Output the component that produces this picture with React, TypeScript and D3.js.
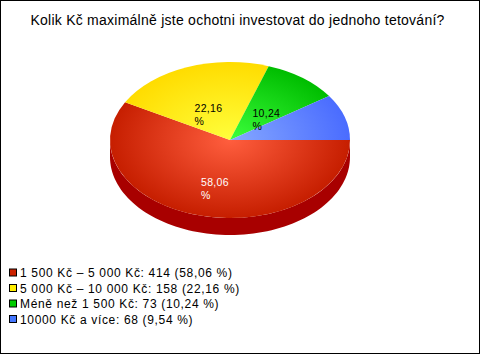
import React, { useEffect, useRef } from 'react';
import * as d3 from 'd3';

const title = 'Kolik Kč maximálně jste ochotni investovat do jednoho tetování?';
const categories = ['1 500 Kč – 5 000 Kč', '5 000 Kč – 10 000 Kč', 'Méně než 1 500 Kč', '10000 Kč a více'];
const counts = [414, 158, 73, 68];
const percentLabels = ['58,06', '22,16', '10,24', '9,54'];
const topLight = ['#ff5e3e', '#ffff3c', '#3cff3c', '#86a8ff'];
const topDark = ['#c61e00', '#ffdc00', '#00bd00', '#4a6cff'];
const sideColors = ['#a80000', '#c8b000', '#009000', '#2a44cc'];
const legendColors = ['#cc2200', '#ffee00', '#00cc00', '#4477ff'];
const labelColors = ['#ffffff', '#000000', '#000000', '#000000'];

export default function App() {
  const svgRef = useRef<SVGSVGElement>(null);

  useEffect(() => {
    document.body.style.margin = '0';
    const W = 480, H = 354;
    const svg = d3.select(svgRef.current).attr('width', W).attr('height', H);
    svg.selectAll('*').remove();
    const font = 'Liberation Sans, Arial, sans-serif';

    svg.append('rect').attr('x', 0.5).attr('y', 0.5).attr('width', W - 1).attr('height', H - 1)
      .attr('fill', '#fff').attr('stroke', '#000');

    svg.append('text').attr('x', 237.5).attr('y', 25).attr('text-anchor', 'middle')
      .attr('font-family', font).attr('font-size', '14px').attr('letter-spacing', '0.25px')
      .attr('fill', '#000').text(title);

    const cx = 230, cy = 140, rx = 120, ry = 78, depth = 17;
    const pie = d3.pie<number>().sort(null).startAngle(Math.PI / 2).endAngle(Math.PI / 2 + 2 * Math.PI);
    const arcs = pie(counts);
    const px = (a: number, r = 1) => cx + rx * r * Math.sin(a);
    const py = (a: number, r = 1) => cy - ry * r * Math.cos(a);

    // Gradients (in the scaled pie group's coordinates)
    const defs = svg.append('defs');
    arcs.forEach((d, i) => {
      const g = defs.append('radialGradient').attr('id', `grad${i}`)
        .attr('gradientUnits', 'userSpaceOnUse').attr('cx', 0).attr('cy', 0).attr('r', rx);
      g.append('stop').attr('offset', '0%').attr('stop-color', topLight[i]);
      g.append('stop').attr('offset', '100%').attr('stop-color', topDark[i]);
    });

    // Sides (front half only)
    arcs.forEach((d, i) => {
      const a0 = Math.max(d.startAngle, Math.PI / 2);
      const a1 = Math.min(d.endAngle, 3 * Math.PI / 2);
      if (a1 <= a0) return;
      const steps = 80;
      const angles = d3.range(steps + 1).map(k => a0 + (a1 - a0) * k / steps);
      const top = angles.map(a => [px(a), py(a)] as [number, number]);
      const bot = angles.slice().reverse().map(a => [px(a), py(a) + depth] as [number, number]);
      svg.append('path').attr('d', d3.line()([...top, ...bot]) + 'Z').attr('fill', sideColors[i]);
    });

    // Top faces
    const arc = d3.arc<d3.PieArcDatum<number>>().innerRadius(0).outerRadius(rx);
    const pg = svg.append('g').attr('transform', `translate(${cx},${cy}) scale(1,${ry / rx})`);
    pg.selectAll('path.slice').data(arcs).join('path').attr('class', 'slice')
      .attr('d', arc).attr('fill', (d, i) => `url(#grad${i})`);

    // Slice labels
    arcs.forEach((d, i) => {
      if (parseFloat(percentLabels[i].replace(',', '.')) < 10) return;
      const mid = (d.startAngle + d.endAngle) / 2;
      const ax = px(mid, 0.5), ay = py(mid, 0.5);
      const t1 = svg.append('text').attr('y', ay + 8.5).attr('font-family', font).attr('font-size', '10.5px')
        .attr('letter-spacing', '0.3px').attr('fill', labelColors[i]).text(percentLabels[i]);
      const w = (t1.node() as SVGTextElement).getComputedTextLength();
      t1.attr('x', ax - w / 2);
      svg.append('text').attr('x', ax - w / 2).attr('y', ay + 21.5).attr('font-family', font)
        .attr('font-size', '10.5px').attr('fill', labelColors[i]).text('%');
    });

    // Legend
    const lg = svg.append('g');
    categories.forEach((c, i) => {
      const y = 272.5 + i * 15.5;
      lg.append('rect').attr('x', 9.5).attr('y', y - 3.5).attr('width', 7).attr('height', 7)
        .attr('fill', legendColors[i]).attr('stroke', '#000');
      lg.append('text').attr('x', 20).attr('y', y + 4.5).attr('font-family', font).attr('font-size', '12px')
        .attr('letter-spacing', '0.66px').attr('fill', '#000').text(`${c}: ${counts[i]} (${percentLabels[i]} %)`);
    });
  }, []);

  return <svg ref={svgRef} style={{ display: 'block' }} />;
}
